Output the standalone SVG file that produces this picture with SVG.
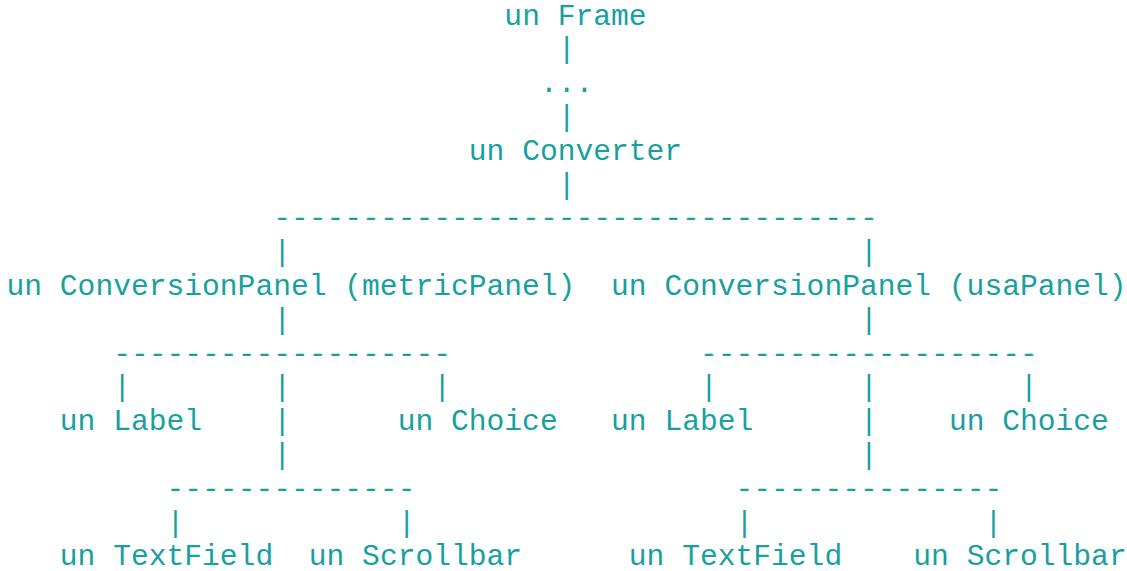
<svg xmlns="http://www.w3.org/2000/svg" width="1127" height="571" viewBox="0 0 1127 571">
<style>
text{font-family:"Liberation Mono","DejaVu Sans Mono",monospace;font-size:29.63px;fill:#17a0a0;white-space:pre}
</style>
<rect width="1127" height="571" fill="#ffffff"/>
<g id="connectors">
<text x="557.71" y="58.4">|</text>
<text x="539.93" y="92.2">...</text>
<text x="557.71" y="126.0">|</text>
<text x="557.71" y="193.6">|</text>
<text x="273.22" y="227.4">----------------------------------</text>
<text x="273.22" y="261.2">|</text>
<text x="859.99" y="261.2">|</text>
<text x="273.22" y="328.8">|</text>
<text x="859.99" y="328.8">|</text>
<text x="113.19" y="362.6">-------------------</text>
<text x="699.96" y="362.6">-------------------</text>
<text x="113.19" y="396.4">|</text>
<text x="273.22" y="396.4">|</text>
<text x="433.24" y="396.4">|</text>
<text x="699.96" y="396.4">|</text>
<text x="859.99" y="396.4">|</text>
<text x="1020.02" y="396.4">|</text>
<text x="273.22" y="430.2">|</text>
<text x="859.99" y="430.2">|</text>
<text x="273.22" y="464.0">|</text>
<text x="859.99" y="464.0">|</text>
<text x="166.53" y="497.8">--------------</text>
<text x="735.52" y="497.8">---------------</text>
<text x="166.53" y="531.6">|</text>
<text x="397.68" y="531.6">|</text>
<text x="735.52" y="531.6">|</text>
<text x="984.46" y="531.6">|</text>
</g>
<g id="frame"><text x="504.37" y="24.6">un Frame</text></g>
<g id="converter"><text x="468.81" y="159.8">un Converter</text></g>
<g id="metricPanel"><text x="6.5" y="295.0">un ConversionPanel (metricPanel)</text></g>
<g id="usaPanel"><text x="611.06" y="295.0">un ConversionPanel (usaPanel)</text></g>
<g id="metricLabel"><text x="59.84" y="430.2">un Label</text></g>
<g id="metricChoice"><text x="397.68" y="430.2">un Choice</text></g>
<g id="usaLabel"><text x="611.06" y="430.2">un Label</text></g>
<g id="usaChoice"><text x="948.89" y="430.2">un Choice</text></g>
<g id="metricTextField"><text x="59.84" y="565.4">un TextField</text></g>
<g id="metricScrollbar"><text x="308.78" y="565.4">un Scrollbar</text></g>
<g id="usaTextField"><text x="628.84" y="565.4">un TextField</text></g>
<g id="usaScrollbar"><text x="913.33" y="565.4">un Scrollbar</text></g>
</svg>
